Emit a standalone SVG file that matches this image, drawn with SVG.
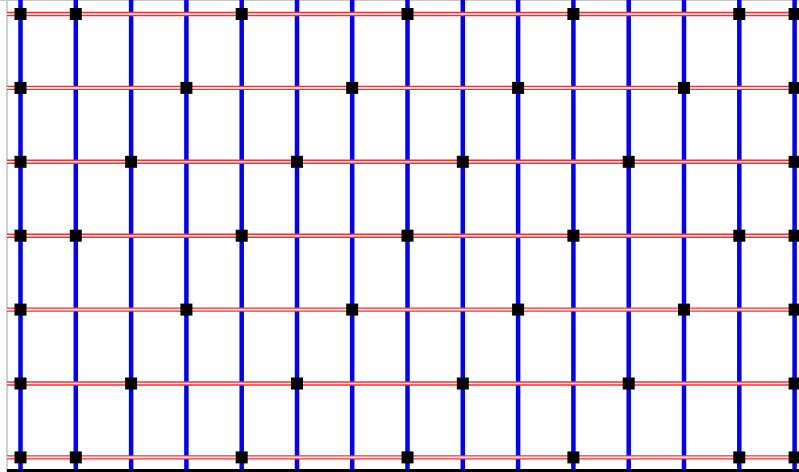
<svg xmlns="http://www.w3.org/2000/svg" xmlns:xlink="http://www.w3.org/1999/xlink" width="799" height="472" viewBox="0 0 799 472">
<style>
.v{stroke:#0000ff;stroke-width:4.5;fill:none}
.ho{stroke:#ff2a2a;stroke-width:4.4;fill:none}
.hi{stroke:#ffffff;stroke-width:1.6;fill:none}
.n{fill:#000000}
</style>
<defs>
<rect id="sq" x="-6" y="-6" width="12" height="12" class="n"/>
</defs>
<rect x="0" y="0" width="799" height="472" fill="#ffffff"/>
<g id="frame">
<line x1="0" y1="0.5" x2="799" y2="0.5" stroke="#c8c8c8" stroke-width="1.2"/>
<line x1="7" y1="0" x2="7" y2="472" stroke="#c0c0c0" stroke-width="1.5"/>
</g>
<g id="connectors">
<g id="verticals">
<line class="v" x1="20.5" y1="0" x2="20.5" y2="472"/>
<line class="v" x1="75.8" y1="0" x2="75.8" y2="472"/>
<line class="v" x1="131.1" y1="0" x2="131.1" y2="472"/>
<line class="v" x1="186.4" y1="0" x2="186.4" y2="472"/>
<line class="v" x1="241.7" y1="0" x2="241.7" y2="472"/>
<line class="v" x1="297" y1="0" x2="297" y2="472"/>
<line class="v" x1="352.2" y1="0" x2="352.2" y2="472"/>
<line class="v" x1="407.5" y1="0" x2="407.5" y2="472"/>
<line class="v" x1="462.8" y1="0" x2="462.8" y2="472"/>
<line class="v" x1="518.1" y1="0" x2="518.1" y2="472"/>
<line class="v" x1="573.4" y1="0" x2="573.4" y2="472"/>
<line class="v" x1="628.7" y1="0" x2="628.7" y2="472"/>
<line class="v" x1="684" y1="0" x2="684" y2="472"/>
<line class="v" x1="739.3" y1="0" x2="739.3" y2="472"/>
<line class="v" x1="794.6" y1="0" x2="794.6" y2="472"/>
</g>
<g id="horizontals">
<line class="ho" x1="7" y1="14" x2="799" y2="14"/>
<line class="ho" x1="7" y1="87.9" x2="799" y2="87.9"/>
<line class="ho" x1="7" y1="161.8" x2="799" y2="161.8"/>
<line class="ho" x1="7" y1="235.7" x2="799" y2="235.7"/>
<line class="ho" x1="7" y1="309.6" x2="799" y2="309.6"/>
<line class="ho" x1="7" y1="383.5" x2="799" y2="383.5"/>
<line class="ho" x1="7" y1="457.4" x2="799" y2="457.4"/>
<line class="hi" x1="7" y1="14" x2="799" y2="14"/>
<line class="hi" x1="7" y1="87.9" x2="799" y2="87.9"/>
<line class="hi" x1="7" y1="161.8" x2="799" y2="161.8"/>
<line class="hi" x1="7" y1="235.7" x2="799" y2="235.7"/>
<line class="hi" x1="7" y1="309.6" x2="799" y2="309.6"/>
<line class="hi" x1="7" y1="383.5" x2="799" y2="383.5"/>
<line class="hi" x1="7" y1="457.4" x2="799" y2="457.4"/>
</g>
</g>
<g id="nodes">
<g id="r0"><use id="n0-0" xlink:href="#sq" x="20.5" y="14"/><use id="n0-1" xlink:href="#sq" x="75.8" y="14"/><use id="n0-4" xlink:href="#sq" x="241.7" y="14"/><use id="n0-7" xlink:href="#sq" x="407.5" y="14"/><use id="n0-10" xlink:href="#sq" x="573.4" y="14"/><use id="n0-13" xlink:href="#sq" x="739.3" y="14"/><use id="n0-14" xlink:href="#sq" x="794.6" y="14"/></g>
<g id="r1"><use id="n1-0" xlink:href="#sq" x="20.5" y="87.9"/><use id="n1-3" xlink:href="#sq" x="186.4" y="87.9"/><use id="n1-6" xlink:href="#sq" x="352.2" y="87.9"/><use id="n1-9" xlink:href="#sq" x="518.1" y="87.9"/><use id="n1-12" xlink:href="#sq" x="684" y="87.9"/><use id="n1-14" xlink:href="#sq" x="794.6" y="87.9"/></g>
<g id="r2"><use id="n2-0" xlink:href="#sq" x="20.5" y="161.8"/><use id="n2-2" xlink:href="#sq" x="131.1" y="161.8"/><use id="n2-5" xlink:href="#sq" x="297" y="161.8"/><use id="n2-8" xlink:href="#sq" x="462.8" y="161.8"/><use id="n2-11" xlink:href="#sq" x="628.7" y="161.8"/><use id="n2-14" xlink:href="#sq" x="794.6" y="161.8"/></g>
<g id="r3"><use id="n3-0" xlink:href="#sq" x="20.5" y="235.7"/><use id="n3-1" xlink:href="#sq" x="75.8" y="235.7"/><use id="n3-4" xlink:href="#sq" x="241.7" y="235.7"/><use id="n3-7" xlink:href="#sq" x="407.5" y="235.7"/><use id="n3-10" xlink:href="#sq" x="573.4" y="235.7"/><use id="n3-13" xlink:href="#sq" x="739.3" y="235.7"/><use id="n3-14" xlink:href="#sq" x="794.6" y="235.7"/></g>
<g id="r4"><use id="n4-0" xlink:href="#sq" x="20.5" y="309.6"/><use id="n4-3" xlink:href="#sq" x="186.4" y="309.6"/><use id="n4-6" xlink:href="#sq" x="352.2" y="309.6"/><use id="n4-9" xlink:href="#sq" x="518.1" y="309.6"/><use id="n4-12" xlink:href="#sq" x="684" y="309.6"/><use id="n4-14" xlink:href="#sq" x="794.6" y="309.6"/></g>
<g id="r5"><use id="n5-0" xlink:href="#sq" x="20.5" y="383.5"/><use id="n5-2" xlink:href="#sq" x="131.1" y="383.5"/><use id="n5-5" xlink:href="#sq" x="297" y="383.5"/><use id="n5-8" xlink:href="#sq" x="462.8" y="383.5"/><use id="n5-11" xlink:href="#sq" x="628.7" y="383.5"/><use id="n5-14" xlink:href="#sq" x="794.6" y="383.5"/></g>
<g id="r6"><use id="n6-0" xlink:href="#sq" x="20.5" y="457.4"/><use id="n6-1" xlink:href="#sq" x="75.8" y="457.4"/><use id="n6-4" xlink:href="#sq" x="241.7" y="457.4"/><use id="n6-7" xlink:href="#sq" x="407.5" y="457.4"/><use id="n6-10" xlink:href="#sq" x="573.4" y="457.4"/><use id="n6-13" xlink:href="#sq" x="739.3" y="457.4"/><use id="n6-14" xlink:href="#sq" x="794.6" y="457.4"/></g>
</g>
<g id="base">
<line x1="7" y1="470.5" x2="799" y2="470.5" stroke="#000000" stroke-width="3"/>
</g>
</svg>
